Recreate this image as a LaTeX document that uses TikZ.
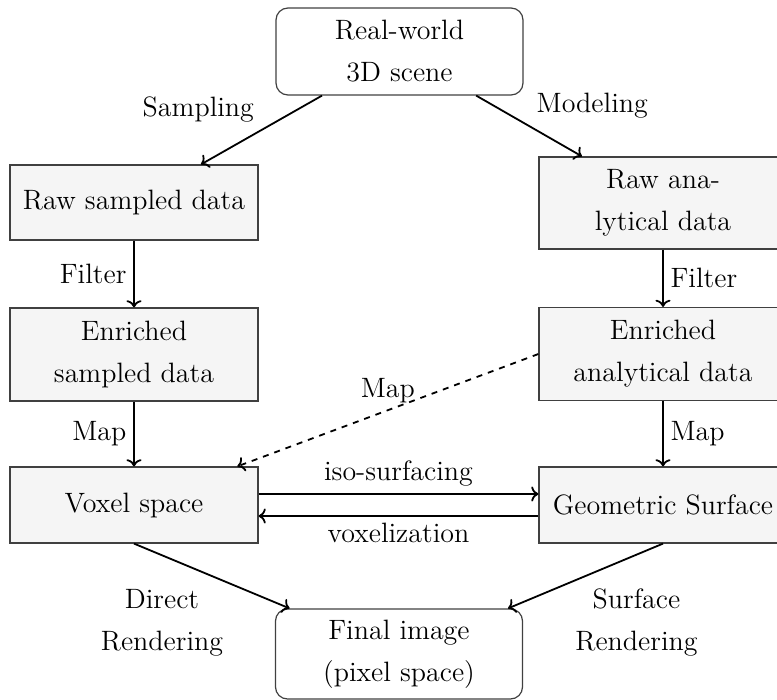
\documentclass[tikz,border=0pt]{standalone}
\usepackage{fontspec}
\usetikzlibrary{arrows.meta}
\begin{document}
\begin{tikzpicture}[x=0.5pt,y=-0.5pt,
  every node/.style={font=\fontsize{14}{21}\selectfont},
  graybox/.style={draw=black!75, line width=0.6pt, fill=gray!8, minimum width=124pt, align=center, inner sep=0pt},
  roundbox/.style={draw=black!75, line width=0.6pt, rounded corners=6pt, minimum width=123.5pt, align=center, inner sep=0pt},
  arr/.style={->, line width=0.9pt},
  lbl/.style={align=center}]
\useasboundingbox (0,0) rectangle (777,700);
% nodes
\node[roundbox, minimum height=43.5pt] (top) at (399.5,51.5) {Real-world\\3D scene};
\node[graybox, minimum height=37.5pt] (rs) at (134,202.5) {Raw sampled data};
\node[graybox, minimum height=46pt] (ra) at (663,203) {Raw ana-\\lytical data};
\node[graybox, minimum height=46.5pt] (es) at (134,354.5) {Enriched\\sampled data};
\node[graybox, minimum height=46.5pt] (ea) at (663,354) {Enriched\\analytical data};
\node[graybox, minimum height=38pt] (vs) at (134,505) {Voxel space};
\node[graybox, minimum height=38pt] (gs) at (663,505) {Geometric Surface};
\node[roundbox, minimum height=45pt] (fi) at (399,654) {Final image\\(pixel space)};
% connectors
\draw[arr] (top) -- (rs) node[midway, above left] (lsamp) {Sampling};
\draw[arr] (top) -- (ra) node[midway, above right] (lmod) {Modeling};
\draw[arr] (rs) -- (es) node[midway, left] (lf1) {Filter};
\draw[arr] (ra) -- (ea) node[midway, right] (lf2) {Filter};
\draw[arr] (es) -- (vs) node[midway, left] (lm1) {Map};
\draw[arr] (ea) -- (gs) node[midway, right] (lm2) {Map};
\draw[arr, dashed] (ea.west) -- (vs) node[midway, above] (lm3) {Map};
\draw[arr] ([yshift=5.5pt]vs.east) -- ([yshift=5.5pt]gs.west) node[midway, above] (liso) {iso-surfacing};
\draw[arr] ([yshift=-5.5pt]gs.west) -- ([yshift=-5.5pt]vs.east) node[midway, below] (lvox) {voxelization};
\draw[arr] (vs.south) -- (fi);
\draw[arr] (gs.south) -- (fi);
\node[lbl] (ldr) at (162,623) {Direct\\Rendering};
\node[lbl] (lsr) at (636.5,623) {Surface\\Rendering};
\end{tikzpicture}
\end{document}
